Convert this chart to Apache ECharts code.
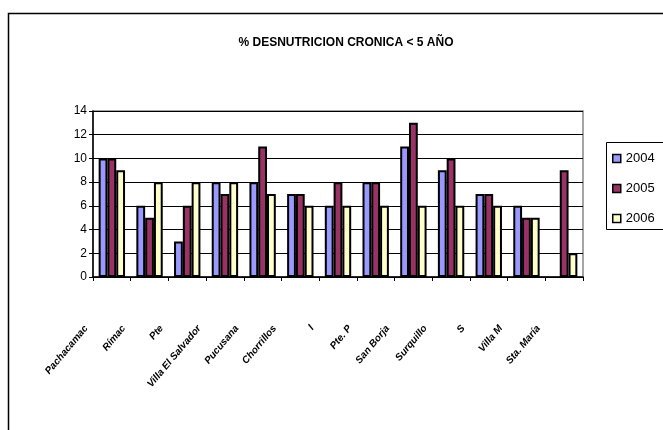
<!DOCTYPE html>
<html>
<head>
<meta charset="utf-8">
<script src="https://cdn.jsdelivr.net/npm/echarts@6/dist/echarts.min.js"></script>
<style>
  html, body { margin: 0; padding: 0; background: #fff; }
  #chart { width: 663px; height: 430px; }
</style>
</head>
<body>
<div id="chart"></div>
<script>
// Districts (x axis)
const districts = [
  'Pachacamac', 'Rímac', 'Pte', 'Villa El Salvador', 'Pucusana', 'Chorrillos',
  'l', 'Pte. P', 'San Borja', 'Surquillo', 'S', 'Villa M', 'Sta. María'
];
// Chronic malnutrition (%) by year
const y2004 = [10, 6, 3, 8, 8, 7, 6, 8, 11, 9, 7, 6, null];
const y2005 = [10, 5, 6, 7, 11, 7, 8, 8, 13, 10, 7, 5, 9];
const y2006 = [9, 8, 8, 8, 7, 6, 6, 6, 6, 6, 6, 5, 2];
const yTicks = [0, 2, 4, 6, 8, 10, 12, 14];

const chart = echarts.init(document.getElementById('chart'), null, { renderer: 'canvas' });

function barSeries(name, data, color) {
  return {
    name: name,
    type: 'bar',
    data: data,
    barGap: '0%',
    barCategoryGap: '30%',
    itemStyle: { color: color, borderColor: '#000', borderWidth: 2 }
  };
}

chart.setOption({
  animation: false,
  backgroundColor: '#fff',
  title: {
    text: '% DESNUTRICION CRONICA < 5 AÑO',
    left: 341,
    top: 32,
    textAlign: 'center',
    textStyle: { fontFamily: 'Arial, Liberation Sans', fontSize: 12, fontWeight: 'bold', color: '#000' }
  },
  graphic: [
    {
      // outer chart frame
      type: 'rect',
      shape: { x: 8.5, y: 13.5, width: 700, height: 500 },
      style: { fill: null, stroke: '#000', lineWidth: 1.5 },
      z: -1
    },
    {
      // legend frame, running past the right edge
      type: 'rect',
      shape: { x: 606.5, y: 142.5, width: 90, height: 87 },
      style: { fill: null, stroke: '#000', lineWidth: 1 },
      z: 10
    }
  ],
  legend: {
    orient: 'vertical',
    left: 606,
    top: 142,
    padding: [10, 6, 2, 6],
    itemGap: 17,
    itemWidth: 8,
    itemHeight: 8,
    icon: 'rect',
    itemStyle: { borderColor: '#000', borderWidth: 1.5 },
    textStyle: { fontFamily: 'Arial, Liberation Sans', fontSize: 13, color: '#000' },
    data: ['2004', '2005', '2006']
  },
  grid: {
    left: 93,
    top: 111,
    right: 80,
    bottom: 153,
    show: true,
    borderColor: '#888',
    borderWidth: 1.5
  },
  xAxis: {
    type: 'category',
    data: districts,
    axisLine: { lineStyle: { color: '#000', width: 1.5 } },
    axisTick: { show: true, length: 4, lineStyle: { color: '#000' } },
    axisLabel: {
      rotate: 50,
      interval: 0,
      margin: 19,
      padding: [0, 40, 0, 0],
      fontFamily: 'Arial, Liberation Sans',
      fontSize: 10,
      fontWeight: 'bold',
      fontStyle: 'italic',
      color: '#000'
    }
  },
  yAxis: {
    type: 'value',
    min: yTicks[0],
    max: yTicks[yTicks.length - 1],
    interval: 2,
    axisLine: { show: true, lineStyle: { color: '#000', width: 1.5 } },
    axisTick: { show: true, length: 4, lineStyle: { color: '#000' } },
    axisLabel: { fontFamily: 'Arial, Liberation Sans', fontSize: 12, color: '#000', margin: 6 },
    splitLine: { lineStyle: { color: '#000', width: 1 } }
  },
  series: [
    barSeries('2004', y2004, '#9999FF'),
    barSeries('2005', y2005, '#993366'),
    barSeries('2006', y2006, '#FFFFCC')
  ]
});
</script>
</body>
</html>
